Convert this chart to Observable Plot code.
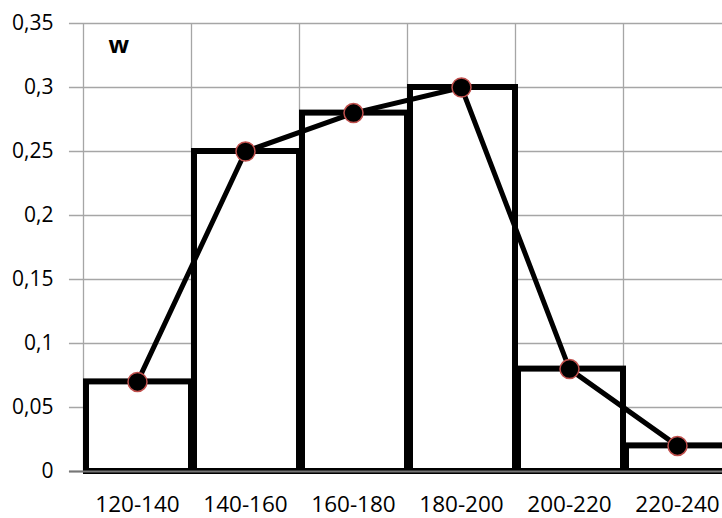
<!DOCTYPE html>
<html>
<head>
<meta charset="utf-8">
<script src="https://cdn.jsdelivr.net/npm/d3@7"></script>
<script src="https://cdn.jsdelivr.net/npm/@observablehq/plot@0.6"></script>
<style>
  html, body { margin: 0; padding: 0; background: #fff; overflow: hidden; }
  #chart svg { display: block; overflow: hidden; }
</style>
</head>
<body>
<div id="chart"></div>
<script>
const categories = ["120-140", "140-160", "160-180", "180-200", "200-220", "220-240"];
const values = [0.07, 0.25, 0.28, 0.30, 0.08, 0.02];
const yTicks = [0, 0.05, 0.1, 0.15, 0.2, 0.25, 0.3, 0.35];

const data = categories.map((c, i) => ({cat: c, i, v: values[i]}));
const bounds = d3.range(categories.length + 1);
const fmt = d => String(d).replace(".", ",");
const grid = "#a6a6a6";
const ff = "'Open Sans', sans-serif";

const chart = Plot.plot({
  width: 722,
  height: 518,
  marginLeft: 83,
  marginRight: 0,
  marginTop: 23,
  marginBottom: 47,
  style: {fontFamily: ff, fontSize: "20px", color: "#000", background: "#fff"},
  x: {domain: [0, categories.length], range: [83, 731]},
  y: {domain: [0, 0.35]},
  marks: [
    Plot.ruleY(yTicks, {x1: -0.13, x2: categories.length, stroke: grid, strokeWidth: 1.3}),
    Plot.ruleX(bounds, {y1: 0, y2: 0.35, stroke: grid, strokeWidth: 1.3}),
    Plot.rectY(data, {x1: d => d.i, x2: d => d.i + 1, y: "v", fill: "white", stroke: "black", strokeWidth: 6, insetLeft: 3}),
    Plot.ruleY([0], {x1: -0.13, x2: categories.length, stroke: "#777", strokeWidth: 2}),
    Plot.line(data, {x: d => d.i + 0.5, y: "v", stroke: "black", strokeWidth: 5}),
    Plot.dot(data, {x: d => d.i + 0.5, y: "v", r: 9.5, fill: "black", stroke: "#c0504d", strokeWidth: 1.5}),
    Plot.axisY({ticks: yTicks, tickFormat: fmt, tickSize: 0, tickPadding: 30, label: null, fontSize: 21, fontFamily: ff, fill: "#000"}),
    Plot.axisX({ticks: d3.range(categories.length).map(i => i + 0.5), tickFormat: d => categories[Math.floor(d)], tickSize: 0, tickPadding: 25, label: null, fontSize: 22.5, fontFamily: ff, fill: "#000"}),
    Plot.text(["w"], {frameAnchor: "top-left", dx: 25, dy: 29, lineAnchor: "bottom", textAnchor: "start", fontSize: 24, fontWeight: "bold", fontFamily: ff})
  ]
});
document.getElementById("chart").appendChild(chart);
</script>
</body>
</html>
